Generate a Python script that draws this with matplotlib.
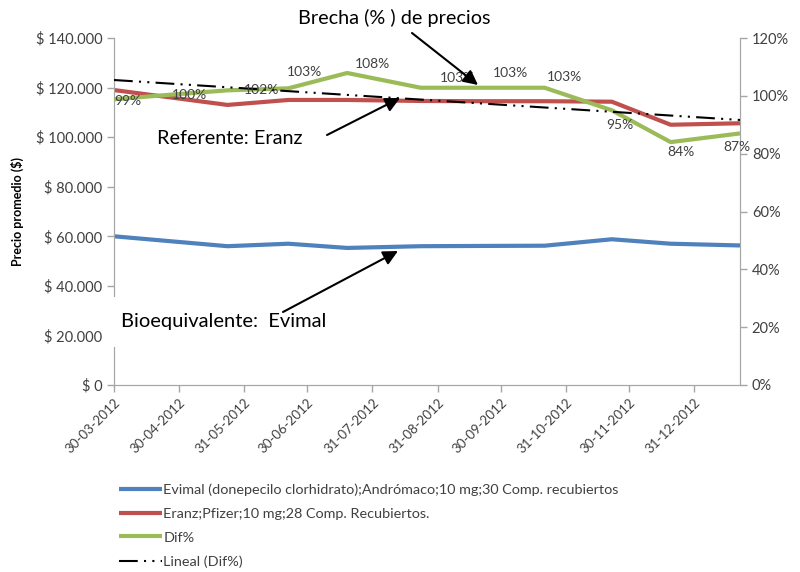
import matplotlib
matplotlib.use("Agg")
import matplotlib.pyplot as plt
import matplotlib.dates as mdates
import numpy as np
import datetime as dt

plt.rcParams['font.family'] = ['Lato', 'DejaVu Sans']

# ---- data ----
dates = ["2012-03-30", "2012-04-26", "2012-05-23", "2012-06-21", "2012-07-19",
         "2012-08-23", "2012-09-20", "2012-10-21", "2012-11-22", "2012-12-20",
         "2013-01-22"]
evimal = [60000, 58000, 56000, 57000, 55300, 56000, 56100, 56200, 58800, 57000, 56300]
eranz = [119000, 116000, 113000, 115000, 115000, 114600, 114500, 114500, 114300, 105000, 105600]
dif_pct = [98.8, 100.4, 101.9, 102.6, 107.9, 102.8, 102.8, 102.8, 95.0, 84.0, 87.0]
tick_dates = ["2012-03-30", "2012-04-30", "2012-05-31", "2012-06-30", "2012-07-31",
              "2012-08-31", "2012-09-30", "2012-10-31", "2012-11-30", "2012-12-31"]
label_blue = "Evimal (donepecilo clorhidrato);Andrómaco;10 mg;30 Comp. recubiertos"
label_red = "Eranz;Pfizer;10 mg;28 Comp. Recubiertos."
label_green = "Dif%"
label_trend = "Lineal (Dif%)"

# label offsets (pixels) for the Dif% data labels
lab_off = [(14, -2), (19, 0), (34, 0), (16, 16), (25, 9), (37, 10), (31, 15),
           (20, 11), (8, -15), (10, -10), (-3, -14)]

x = mdates.date2num([dt.date.fromisoformat(d) for d in dates])
xt = mdates.date2num([dt.date.fromisoformat(d) for d in tick_dates])

W, H = 800, 572
fig = plt.figure(figsize=(W / 100, H / 100), dpi=100)
L, R, T, B = 114, 740, 38, 385
ax = fig.add_axes([L / W, 1 - B / H, (R - L) / W, (B - T) / H])
ax2 = ax.twinx()

gray = '#A6A6A6'
txtc = '#404040'

l1, = ax.plot(x, evimal, color='#4F81BD', lw=3, solid_capstyle='butt', zorder=3)
l2, = ax.plot(x, eranz, color='#C0504D', lw=3, solid_capstyle='butt', zorder=3)
l3, = ax2.plot(x, dif_pct, color='#9BBB59', lw=3, solid_capstyle='butt', zorder=3)

# linear trendline of Dif%
coef = np.polyfit(x, dif_pct, 1)
xx = np.array([x[0], x[-1]])
l4, = ax2.plot(xx, np.polyval(coef, xx), color='black', lw=1.5,
               dashes=[9, 3, 1, 3, 1, 3], zorder=4)

for xi, v, (dx, dy) in zip(x, dif_pct, lab_off):
    ax2.annotate(f"{round(v):d}%", xy=(xi, v), xytext=(dx * 0.72, dy * 0.72),
                 textcoords='offset points', ha='center', va='center',
                 fontsize=10, color=txtc, zorder=5)

ax.set_xlim(x[0], x[-1])
ax.set_ylim(0, 140000)
ax2.set_ylim(0, 120)
ax.set_yticks(np.arange(0, 140001, 20000))
ax.set_yticklabels(["$ 0"] + [f"$ {v // 1000}.000" for v in range(20000, 140001, 20000)])
ax2.set_yticks(np.arange(0, 121, 20))
ax2.set_yticklabels([f"{v}%" for v in range(0, 121, 20)])
ax.set_xticks(xt)
ax.set_xticklabels([d.strftime('%d-%m-%Y') for d in mdates.num2date(xt)],
                   rotation=45, ha='right', rotation_mode='anchor')

for a in (ax, ax2):
    for s in a.spines.values():
        s.set_color(gray)
    a.spines['top'].set_visible(False)
    a.tick_params(colors=gray, labelcolor=txtc, length=5, width=1)
ax.tick_params(axis='y', labelsize=10.5)
ax2.tick_params(axis='y', labelsize=10.5)
ax.tick_params(axis='x', labelsize=9.5, pad=3)

ax.set_ylabel("Precio promedio ($)", fontsize=9, fontweight='bold', color='black', labelpad=8)

# annotations
fig.text(394, H - 18, "Brecha (% ) de precios", fontsize=14.3, ha='center', va='center',
         color='black', transform=None)
fig.text(157, H - 139, "Referente: Eranz", fontsize=14.3, ha='left', va='center',
         color='black', transform=None)
fig.text(121, H - 322, "Bioequivalente:  Evimal", fontsize=14.5, ha='left', va='center',
         color='black', transform=None, zorder=10,
         bbox=dict(boxstyle='square,pad=0.8', fc='white', ec='none'))

arrows = [((412, 33), (478, 85)), ((327, 135), (400, 98)), ((283, 312), (398, 251))]
for (sx, sy), (tx, ty) in arrows:
    fig.add_artist(matplotlib.patches.FancyArrowPatch(
        (sx, H - sy), (tx, H - ty), transform=None, arrowstyle='-|>',
        mutation_scale=22, lw=1.5, color='black', shrinkA=0, shrinkB=0, zorder=11))

fig.legend([l1, l2, l3, l4], [label_blue, label_red, label_green, label_trend],
           loc='upper left', bbox_to_anchor=(110 / W, 1 - 475 / H), frameon=False,
           fontsize=10.4, handlelength=3.0, handletextpad=0.1, labelspacing=0.8,
           borderpad=0.1, labelcolor=txtc)

fig.savefig("out.png", dpi=100)
